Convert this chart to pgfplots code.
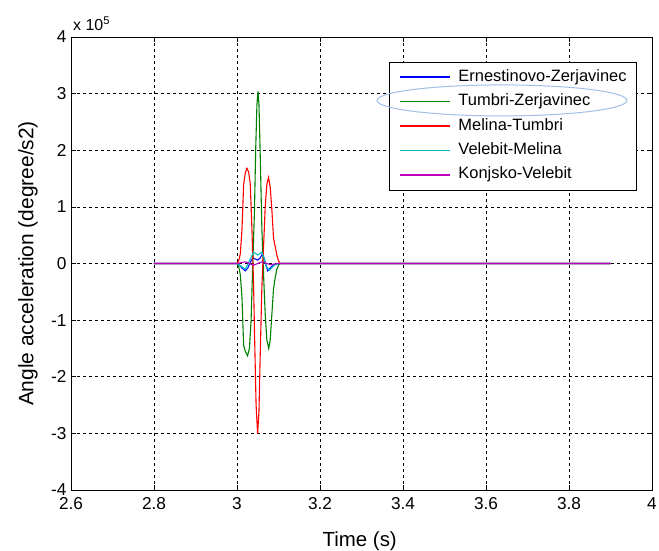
\documentclass[border=0pt]{standalone}
\usepackage{fontspec}
\setmainfont{Liberation Sans}
\usepackage{pgfplots}
\pgfplotsset{compat=1.18}
\definecolor{cblue}{RGB}{0,0,255}
\definecolor{cgreen}{RGB}{0,128,0}
\definecolor{cred}{RGB}{255,0,0}
\definecolor{ccyan}{RGB}{0,191,191}
\definecolor{cmag}{RGB}{191,0,191}
\definecolor{ell}{RGB}{160,192,230}
\begin{document}
\begin{tikzpicture}
\begin{axis}[
  scale only axis, width=581bp, height=453bp,
  xmin=2.6, xmax=4, ymin=-4, ymax=4,
  xtick={2.6,2.8,3,3.2,3.4,3.6,3.8,4},
  ytick={-4,-3,-2,-1,0,1,2,3,4},
  tick pos=both, tick align=inside, major tick length=5bp,
  grid=major,
  grid style={black, dash pattern=on 3bp off 3bp, line width=0.6bp},
  axis line style={black, line width=0.8bp},
  every tick/.style={black, line width=0.6bp},
  tick label style={font=\fontsize{17.3}{20}\selectfont},
  xticklabel style={yshift=-4bp},
  yticklabel style={xshift=-1bp},
  /pgf/number format/assume math mode=true,
  xlabel={Time (s)}, ylabel={Angle acceleration (degree/s2)},
  xlabel style={at={(rel axis cs:0.497,0)}, anchor=center, yshift=-51bp, font=\fontsize{20.5}{24}\selectfont},
  ylabel style={at={(rel axis cs:0,0.5)}, rotate=0, anchor=center, yshift=43bp, font=\fontsize{21}{24}\selectfont},
  legend style={at={(0.974,0.945)}, anchor=north east, draw=black, line width=0.6bp, fill=white,
    font=\fontsize{16.5}{19}\selectfont, cells={anchor=west},
    inner xsep=10bp, inner ysep=7bp, row sep=8.4bp,
    /tikz/every odd column/.append style={column sep=8bp},
    nodes={inner sep=0pt, text height=12bp, text depth=4bp}},
  legend image code/.code={\draw[#1, line width=1.6bp] (0bp,0bp) -- (50bp,0bp);},
]
\addplot[color=cblue, line width=1.1bp] coordinates {
(2.8,0) (3.0,0) (3.006,-0.03) (3.012,-0.08) (3.02,-0.13) (3.026,-0.08) (3.032,0.02) (3.038,0.1) (3.044,0.08) (3.05,0.06) (3.056,0.1) (3.062,0.18) (3.068,0.02) (3.074,-0.13) (3.08,-0.08) (3.088,-0.02) (3.1,0) (3.9,0)};
\addlegendentry{Ernestinovo-Zerjavinec}
\addplot[color=cgreen, line width=1.1bp] coordinates {
(2.8,0) (3.000,0) (3.004,-0.05) (3.008,-0.2) (3.012,-0.6) (3.016,-1.45) (3.020,-1.55) (3.0255,-1.63) (3.030,-1.5) (3.034,-1.0) (3.038,0.0) (3.042,0.9) (3.045,2.0) (3.048,2.8) (3.0505,3.04) (3.053,2.8) (3.056,1.9) (3.060,0.6) (3.064,-0.2) (3.068,-0.9) (3.072,-1.35) (3.0765,-1.5) (3.080,-1.35) (3.084,-0.9) (3.088,-0.45) (3.092,-0.25) (3.096,-0.1) (3.100,-0.03) (3.104,0) (3.9,0)};
\addlegendentry{Tumbri-Zerjavinec}
\addplot[color=cred, line width=1.1bp] coordinates {
(2.8,0) (3.000,0) (3.004,0.05) (3.008,0.17) (3.012,0.6) (3.016,1.4) (3.020,1.6) (3.024,1.68) (3.028,1.62) (3.032,1.4) (3.036,0.6) (3.040,-0.4) (3.043,-1.5) (3.046,-2.5) (3.0497,-3.01) (3.053,-2.6) (3.056,-1.6) (3.060,-0.4) (3.064,0.3) (3.068,1.0) (3.072,1.4) (3.076,1.52) (3.080,1.35) (3.084,0.95) (3.088,0.45) (3.092,0.3) (3.096,0.15) (3.100,0.05) (3.104,0) (3.9,0)};
\addlegendentry{Melina-Tumbri}
\addplot[color=ccyan, line width=1.1bp] coordinates {
(2.8,0) (3.0,0) (3.01,-0.05) (3.02,-0.1) (3.03,0.05) (3.04,0.2) (3.05,0.15) (3.06,0.2) (3.065,0.1) (3.07,-0.05) (3.078,-0.12) (3.09,-0.03) (3.1,0) (3.9,0)};
\addlegendentry{Velebit-Melina}
\addplot[color=cmag, line width=1.1bp] coordinates {
(2.8,0) (3.0,0) (3.02,0.03) (3.04,-0.03) (3.06,0.03) (3.08,-0.02) (3.1,0) (3.9,0)};
\addlegendentry{Konjsko-Velebit}
\coordinate (E) at (axis cs:3.6386,2.88);
\coordinate (O) at (rel axis cs:0,0);
\coordinate (TL) at (rel axis cs:0,1);
\end{axis}
\draw[ell, line width=1bp] (E) ellipse [x radius=125bp, y radius=15.5bp];
\node[anchor=south west, inner sep=0pt, font=\fontsize{16}{18}\selectfont] at ([shift={(2bp,6bp)}]TL) {x 10\textsuperscript{5}};
\pgfresetboundingbox
\path ([shift={(-71bp,-61bp)}]O) rectangle ++(659bp,551bp);
\end{tikzpicture}
\end{document}
